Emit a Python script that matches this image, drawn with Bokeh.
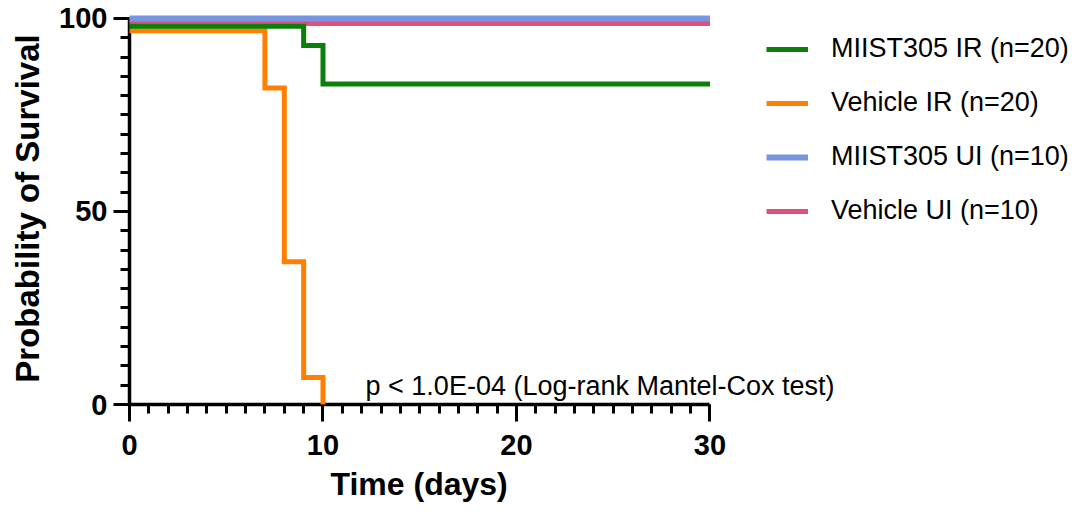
from bokeh.plotting import figure
from bokeh.models import FixedTicker, Legend, LegendItem, Label, Range1d, Title
from bokeh.embed import file_html
from bokeh.resources import INLINE

# ---- data ----
miist_ir_t = [0, 9, 10, 30]
miist_ir_s = [98.0, 93.0, 83.0, 83.0]
veh_ir_t = [0, 7, 8, 9, 10]
veh_ir_s = [96.8, 82.0, 37.0, 7.0, 0.0]
miist_ui_t = [0, 30]
miist_ui_s = [100.0, 100.0]
veh_ui_t = [0, 30]
veh_ui_s = [98.7, 98.7]

series_labels = ["MIIST305 IR (n=20)", "Vehicle IR (n=20)",
                 "MIIST305 UI (n=10)", "Vehicle UI (n=10)"]
colors = ["#0A800A", "#FF8000", "#7896E0", "#E0507E"]

x_major = [0, 10, 20, 30]
x_minor = list(range(0, 31))
y_major = [0, 50, 100]
y_minor = list(range(0, 101, 5))
p_text = "p < 1.0E-04 (Log-rank Mantel-Cox test)"

FONT = "Liberation Sans"

# frame spans the full width (legend and note live inside it);
# the axes are bounded to the data extent 0..30 days
p = figure(width=1075, height=516,
           x_range=Range1d(0, 48.89), y_range=Range1d(0, 101.55),
           output_backend="svg", toolbar_location=None,
           min_border_left=129, min_border_right=0,
           min_border_top=12, min_border_bottom=112)
p.outline_line_color = None
p.xgrid.visible = False
p.ygrid.visible = False

lw = 5
r_orange = p.step(veh_ir_t, veh_ir_s, mode="after", line_color=colors[1],
                  line_width=lw, line_join="miter", level="overlay")
r_pink = p.step(veh_ui_t, veh_ui_s, mode="after", line_color=colors[3],
                line_width=lw, line_join="miter", level="overlay")
r_blue = p.step(miist_ui_t, miist_ui_s, mode="after", line_color=colors[2],
                line_width=6, line_join="miter", level="overlay")
r_green = p.step(miist_ir_t, miist_ir_s, mode="after", line_color=colors[0],
                 line_width=lw, line_join="miter", level="overlay")

# axes
for ax in (p.xaxis[0], p.yaxis[0]):
    ax.axis_line_width = 3.5
    ax.axis_line_color = "black"
    ax.major_tick_line_width = 3
    ax.minor_tick_line_width = 3
    ax.major_tick_line_color = "black"
    ax.minor_tick_line_color = "black"
    ax.major_tick_in = 0
    ax.minor_tick_in = 0
    ax.minor_tick_out = 9
    ax.major_label_text_font = FONT
    ax.major_label_text_font_style = "bold"
    ax.major_label_text_font_size = "29px"
    ax.major_label_text_color = "black"
    ax.axis_label_text_font = FONT
    ax.axis_label_text_font_style = "bold"
    ax.axis_label_text_font_size = "33px"
    ax.axis_label_text_color = "black"

p.xaxis.ticker = FixedTicker(ticks=x_major, minor_ticks=x_minor)
p.yaxis.ticker = FixedTicker(ticks=y_major, minor_ticks=y_minor)
p.xaxis.bounds = (0, 30)
p.yaxis.bounds = (0, 100)
p.xaxis.major_tick_out = 17
p.yaxis.major_tick_out = 16
p.xaxis.major_label_standoff = 13
p.yaxis.major_label_standoff = 6
p.yaxis.axis_label = "Probability of Survival"
p.yaxis.axis_label_standoff = 10

# x-axis title, centred under the 0..30 axis
p.add_layout(Title(text="Time (days)", align="left", offset=201, standoff=12,
                   text_font=FONT, text_font_style="bold",
                   text_font_size="32px", text_color="black"), "below")

# p-value annotation
p.add_layout(Label(x=12.2, y=4.8, text=p_text, text_font=FONT,
                   text_font_size="27px", text_color="black",
                   text_baseline="alphabetic"))

legend = Legend(items=[
    LegendItem(label=series_labels[0], renderers=[r_green]),
    LegendItem(label=series_labels[1], renderers=[r_orange]),
    LegendItem(label=series_labels[2], renderers=[r_blue]),
    LegendItem(label=series_labels[3], renderers=[r_pink]),
], location=(637, 178), padding=0, margin=0, spacing=23,
    glyph_width=42, glyph_height=30, label_height=30, label_standoff=23,
    label_text_font=FONT, label_text_font_size="27px", label_text_color="black",
    border_line_color=None, background_fill_alpha=0)
p.add_layout(legend, "center")

open("out.html", "w").write(file_html(p, INLINE))
